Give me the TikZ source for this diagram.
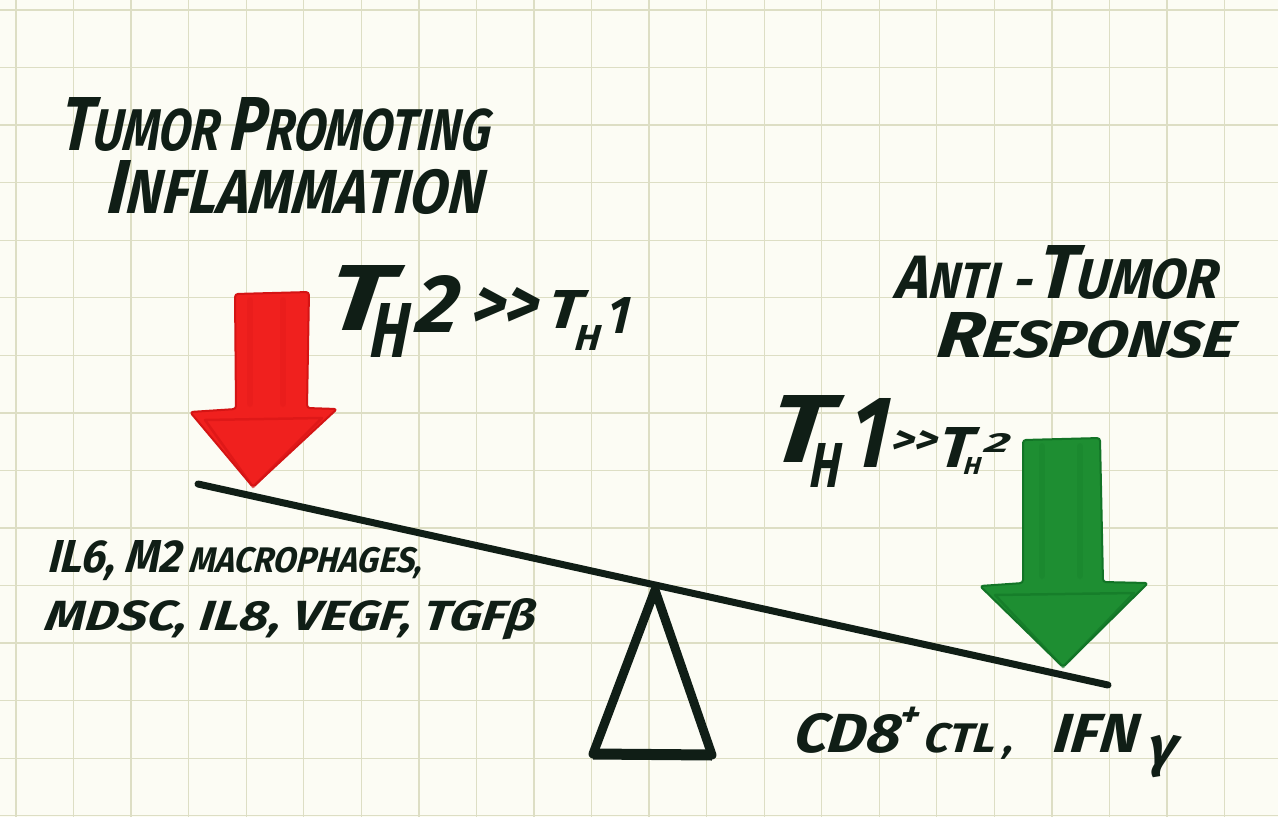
\documentclass[tikz,border=0pt]{standalone}
\usepackage{fontspec}
\usepackage{graphicx}
\setmainfont{Fira Sans}[BoldItalicFeatures={FakeSlant=0.12}]
\definecolor{paper}{RGB}{252,252,244}
\definecolor{gridc}{RGB}{221,222,196}
\definecolor{inkc}{RGB}{16,30,22}
\definecolor{redm}{RGB}{240,32,30}
\definecolor{redd}{RGB}{212,20,20}
\definecolor{greenm}{RGB}{30,142,50}
\definecolor{greend}{RGB}{18,116,38}
\newcommand{\fitbox}[3]{\resizebox{#1pt}{#2pt}{#3}}
\newcommand{\capsz}[2]{{\fontsize{#1}{#1}\selectfont #2}}
% placed glyph: kern before, raise, width, height, text
\newcommand{\pg}[5]{\kern#1pt\raisebox{#2pt}{\resizebox{#3pt}{#4pt}{#5}}}
\begin{document}
\begin{tikzpicture}[x=1pt,y=-1pt,
  ink/.style={text=inkc,font=\fontsize{10}{12}\bfseries\itshape,inner sep=0pt,outer sep=0pt,anchor=base west},
  gridline/.style={draw=gridc,line width=1.3pt},
  beamline/.style={draw=inkc,line width=7pt,line cap=round},
  fulcrum/.style={draw=inkc,line width=9pt,line join=round,line cap=round},
  redarrow/.style={fill=redm,draw=redd,line width=2pt,rounded corners=3pt,line join=round},
  greenarrow/.style={fill=greenm,draw=greend,line width=2pt,rounded corners=3pt,line join=round},
  streak/.style={line width=6pt,opacity=0.18,line cap=round}]

\fill[paper] (0,0) rectangle (1278,817);
\useasboundingbox (0,0) rectangle (1278,817);
\foreach \i in {0,...,21} \draw[gridline] ({16+57.55*\i},0) -- ({16+57.55*\i},817);
\foreach \j in {0,...,14} \draw[gridline] (0,{10+57.55*\j}) -- (1278,{10+57.55*\j});

% titles
\node[ink] (title1) at (60,150) {\fitbox{430}{53}{\capsz{13}{T}UMOR \capsz{13}{P}ROMOTING}};
\node[ink] (title2) at (106,213) {\fitbox{378}{53}{\capsz{12.3}{I}NFLAMMATION}};
\node[ink] (anti1) at (895,298) {\fitbox{322}{53}{\capsz{12}{A}NTI\kern3pt-\kern1pt\capsz{15}{T}\capsz{11}{UMOR}}};
\node[ink] (anti2) at (935,357) {\fitbox{298}{45}{\capsz{12.5}{R}ESPONSE}};

% red arrow
\coordinate (rtip) at (253,487);
\filldraw[redarrow] (235,294) -- (309,292) -- (307,408) -- (337,409) -- (rtip) -- (190,412) -- (236,409) -- cycle;
\draw[streak,draw=redd] (250,300) -- (250,404);
\draw[streak,draw=redd] (283,300) -- (283,404);
\draw[redd,line width=2.5pt,opacity=0.6,line join=round] (205,420) -- (322,418) -- (rtip) -- cycle;

% green arrow
\coordinate (gtip) at (1063,667);
\filldraw[greenarrow] (1023,440) -- (1100,438) -- (1103,582) -- (1148,583) -- (gtip) -- (980,586) -- (1023,583) -- cycle;
\draw[streak,draw=greend] (1042,446) -- (1042,576);
\draw[streak,draw=greend] (1080,446) -- (1080,576);
\draw[greend,line width=2.5pt,opacity=0.6,line join=round] (995,595) -- (1134,593) -- (gtip) -- cycle;

% T_H2 >> T_H1
\node[ink] (th2) at (324,330) {\pg{0}{0}{64}{65}{T}\pg{-19}{-27}{38}{54}{H}\pg{7}{-2}{42}{57}{2}\pg{15}{2}{67}{41}{>\kern0pt>}\pg{8}{2}{34}{38}{T}\pg{-6}{-20}{25}{25}{H}\pg{7}{-3}{22}{36}{1}};

% T_H1 >> T_H2
\node[ink] (th1) at (766,462) {\pg{0}{0}{62}{67}{T}\pg{-19}{-25}{30}{44}{H}\pg{9}{-5}{38}{69}{1}\pg{5}{9}{46}{23}{>\kern0pt>}\pg{0}{-5}{34}{40}{T}\pg{-8}{-12}{17}{17}{H}\pg{3}{10}{25}{19}{2}};

% lower-left labels
\node[ink] (pro1) at (48,572) {\fitbox{375}{32}{\capsz{13}{IL6, M2} MACROPHAGES,}};
\node[ink] (pro2) at (45,630) {\fitbox{490}{32}{MDSC, IL8, VEGF, TGFβ}};

% lower-right label
\node[ink] (anti3) at (793,752) {\fitbox{383}{45}{\capsz{14}{CD8}\raisebox{6.5pt}{\capsz{9}{+}}\kern1pt\capsz{10.5}{CTL}\kern2pt,\kern9pt\capsz{14}{IFN}\kern2pt\raisebox{-3.5pt}{\capsz{14}{γ}}}};

% seesaw
\coordinate (beamL) at (198,484);
\coordinate (beamR) at (1108,685);
\coordinate (apex) at (655,590);
\coordinate (baseL) at (593,754);
\coordinate (baseR) at (712,755);
\draw[fulcrum] (apex) -- (baseL) -- (baseR) -- cycle;
\draw[inkc,line width=11pt] (baseL) -- (baseR);
\draw[beamline] (beamL) -- (beamR);
\end{tikzpicture}
\end{document}
